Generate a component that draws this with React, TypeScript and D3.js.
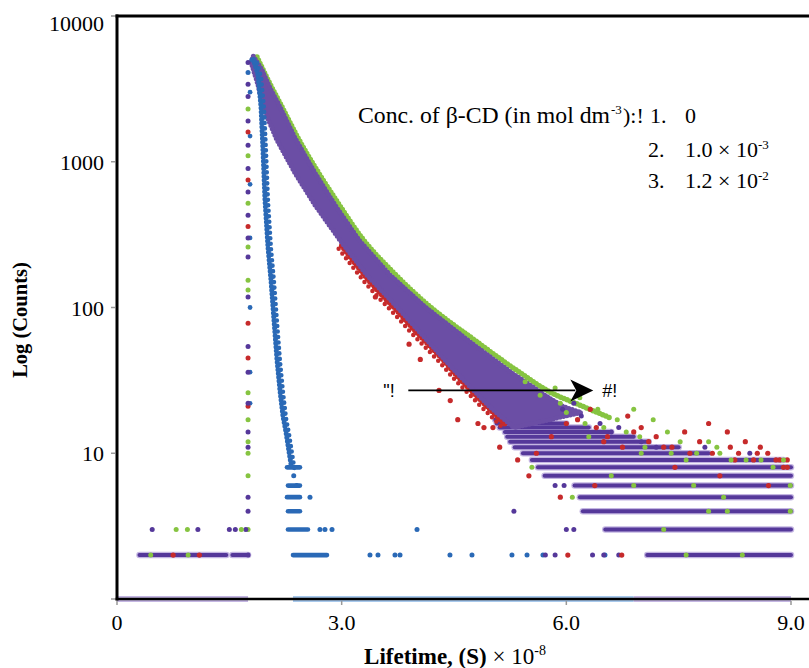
import React from "react";
import * as d3 from "d3";

const W = 809;
const H = 668;

const xTicks = [0, 3, 6, 9];
const xTickLabels = ["0", "3.0", "6.0", "9.0"];
const yTicks = [1, 10, 100, 1000, 10000];
const yTickLabels = ["", "10", "100", "1000", "10000"];

// decay of the samples: purple band, [time (x 1e-8 s), counts]
const bandTop = [
  [1.82, 5300], [1.936, 4260], [2.043, 3210], [2.176, 2375], [2.377, 1455],
  [2.644, 837], [2.911, 505], [3.231, 290], [3.645, 167], [4.113, 101],
  [4.714, 58], [5.274, 35.5], [5.715, 25], [5.95, 21], [6.2, 19],
];
const bandBottom = [
  [1.79, 4830], [1.883, 3363], [1.95, 2375], [2.136, 1410], [2.377, 837],
  [2.644, 505], [2.977, 290], [3.338, 167], [3.739, 101], [4.139, 59.8],
  [4.54, 35.5], [4.981, 20.8], [5.15, 17.5], [5.3, 15],
];
// slowest decay (green) along the upper edge
const greenEdge = [
  [1.869, 5230], [2.016, 3640], [2.203, 2375], [2.417, 1455], [2.684, 851],
  [2.951, 521], [3.271, 300], [3.685, 175], [4.153, 104], [4.754, 60.8],
  [5.328, 37.3], [5.782, 26.3], [6.182, 21.4], [6.583, 17.5],
];
// fastest decay (red) along the lower edge
const redEdge = [
  [3.0, 265], [3.2, 195], [3.34, 158], [3.55, 120],
  [3.74, 95], [3.95, 72], [4.14, 57], [4.35, 44], [4.54, 34], [4.76, 26],
  [4.98, 20], [5.2, 15.5],
];

// single-photon rows at low counts (purple)
const rowCounts = [2, 2, 2, 3, 4, 5, 6, 7, 8, 9, 10, 11, 12, 13, 14, 15, 16, 17, 19];
const rowStart = [0.3, 1.54, 7.08, 6.52, 6.22, 6.18, 6.11, 5.71, 5.62, 5.54, 5.42, 5.31, 5.25, 5.21, 5.18, 5.11, 5.07, 5.05, 5.1];
const rowEnd = [1.46, 1.75, 9.0, 9.0, 9.0, 9.0, 9.0, 9.0, 9.0, 8.9, 7.9, 7.5, 7.1, 6.9, 6.6, 6.3, 6.0, 5.8, 5.7];

// counts lying on the axis (count = 1)
const baseStart = [0, 2.35, 6.9];
const baseEnd = [1.75, 6.9, 9.0];
const baseSeries = ["p", "b", "p"];

// loose dots
const redDots = [
  [6.32, 20], [6.82, 18], [7.58, 14], [8.15, 14], [8.19, 11], [8.69, 10], [8.85, 9],
  [7.41, 11], [5.11, 11], [5.5, 7], [6.02, 2], [6.74, 2], [5.92, 5], [4.55, 17],
  [4.82, 16], [5.02, 15], [7.78, 12], [8.39, 12], [8.59, 11], [6.0, 16], [7.0, 15],
  [8.9, 8], [8.7, 6], [8.8, 9], [5.8, 13], [6.5, 12], [7.2, 13], [0.75, 2], [1.1, 2],
  [6.15, 17], [6.4, 15], [6.55, 13], [6.9, 14], [7.1, 12], [7.3, 11], [7.65, 10],
  [7.95, 10], [8.3, 10], [8.5, 9], [8.95, 9], [8.95, 8], [6.75, 11], [7.9, 16],
  [8.55, 10], [8.25, 9], [4.3, 27], [4.45, 23], [4.9, 15], [3.9, 56], [4.05, 44],
  [3.45, 118], [5.35, 9], [5.6, 10], [7.45, 8], [8.05, 7], [6.38, 6],
];
const greenDots = [
  [7.16, 17], [8.01, 11], [7.74, 10], [8.76, 8], [6.42, 20], [6.68, 17], [5.54, 8],
  [6.08, 5], [8.35, 2], [8.99, 6], [8.99, 4], [6.98, 13], [7.52, 12], [5.92, 22],
  [5.65, 25], [6.18, 24], [7.3, 3], [6.9, 6], [7.9, 4], [8.1, 5], [7.7, 6], [6.6, 7],
  [8.4, 9], [7.0, 10], [0.45, 2], [0.95, 2], [0.79, 3], [0.94, 3], [1.66, 3],
  [6.0, 19], [6.25, 16], [6.5, 15], [6.8, 14], [7.05, 11], [7.4, 10], [7.6, 9],
  [8.2, 9], [8.6, 9], [8.9, 9], [6.3, 13], [7.9, 12], [7.35, 14], [8.05, 10],
  [5.45, 31], [5.85, 28], [6.9, 20], [8.15, 4], [7.6, 2],
];
const purpleDots = [
  [0.47, 3], [1.08, 3], [1.5, 3], [1.58, 3], [1.72, 3], [5.3, 4], [6.0, 3], [6.1, 3],
  [5.85, 6], [5.97, 6], [5.72, 2], [5.85, 2], [6.35, 2], [6.5, 2], [6.7, 2],
  [6.2, 18], [6.45, 16], [6.6, 14], [7.0, 12], [7.2, 11], [7.85, 11], [8.45, 10],
  [5.95, 20], [6.1, 22], [6.7, 15],
];

// rising edge column of the sample decays
const riseTime = 1.75;
const riseCounts = [2, 3, 4, 5, 7, 10, 11, 12, 14, 17, 21, 22, 26, 36, 45, 54, 78, 118, 132, 154, 222, 260, 300, 360, 430, 520, 620, 750, 900, 1100, 1300, 1600, 1900, 2300, 2800, 3400, 4100, 4800];
const riseSeries = ["p", "g", "p", "p", "g", "g", "p", "g", "p", "g", "r", "p", "g", "p", "r", "p", "r", "p", "g", "g", "p", "g", "p", "r", "p", "g", "p", "r", "p", "g", "p", "r", "p", "g", "p", "p", "b", "p"];

// instrument response (blue)
const irfCurve = [
  [1.8, 5000], [1.816, 5150], [1.883, 3940], [1.923, 2375], [1.949, 1205], [1.976, 547],
  [2.016, 260], [2.056, 154], [2.096, 82], [2.136, 44], [2.176, 27], [2.216, 18],
  [2.256, 14], [2.3, 10], [2.33, 8],
];
const irfRise = [22, 36, 100, 300, 700, 1500, 3000];
const irfRowCounts = [8, 6, 5, 4, 3, 2];
const irfRowStart = [2.27, 2.283, 2.27, 2.283, 2.283, 2.35];
const irfRowEnd = [2.443, 2.443, 2.443, 2.443, 2.55, 2.804];
const irfDots = [
  [2.577, 5], [2.71, 3], [2.777, 3], [2.871, 3], [4.006, 3], [3.378, 2], [3.485, 2],
  [3.712, 2], [3.779, 2], [4.446, 2], [4.74, 2], [5.274, 2], [5.475, 2], [5.688, 2],
  [6.516, 2], [2.36, 7], [2.4, 6],
];

const arrowFrom = [3.89, 27];
const arrowTo = [6.36, 27];

const PURPLE = "#6b4ea5";
const PURPLE_DARK = "#55389a";
const HALO = "#c4b6e2";
const GREEN = "#86c441";
const RED = "#c62a2b";
const BLUE = "#2a69b6";
const BLUE_LIGHT = "#a8c9ec";

const colorOf: Record<string, string> = { p: PURPLE_DARK, g: GREEN, r: RED, b: BLUE };

export default function App() {
  const x = d3.scaleLinear().domain([0, 9]).range([117, 791]);
  const y = d3.scaleLog().domain([1, 10000]).range([599, 16]);

  const line = d3
    .line<number[]>()
    .x((d) => x(d[0]))
    .y((d) => y(d[1]));
  const smooth = d3
    .line<number[]>()
    .x((d) => x(d[0]))
    .y((d) => y(d[1]))
    .curve(d3.curveMonotoneX);

  const bandPath = d3
    .line<number[]>()
    .x((d) => x(d[0]))
    .y((d) => y(d[1]))
    .curve(d3.curveLinearClosed)([...bandTop, ...bandBottom.slice().reverse()]);

  const serif = "'Liberation Serif', 'Times New Roman', serif";
  const sans = "'Liberation Sans', Arial, sans-serif";

  return (
    <svg width={W} height={H} style={{ display: "block", position: "absolute", left: 0, top: 0 }}>
      <rect width={W} height={H} fill="#fff" />

      {/* counts on the axis */}
      {baseStart.map((s, i) => (
        <line key={"b" + i} x1={x(s)} x2={x(baseEnd[i])} y1={y(1)} y2={y(1)}
          stroke={baseSeries[i] === "b" ? BLUE_LIGHT : HALO} strokeWidth={6} />
      ))}

      {/* low-count rows */}
      {rowCounts.map((c, i) => (
        <line key={"rh" + i} x1={x(rowStart[i])} x2={x(rowEnd[i])} y1={y(c)} y2={y(c)}
          stroke={HALO} strokeWidth={6.5} strokeLinecap="round" />
      ))}
      {rowCounts.map((c, i) => (
        <line key={"rc" + i} x1={x(rowStart[i])} x2={x(rowEnd[i])} y1={y(c)} y2={y(c)}
          stroke={PURPLE_DARK} strokeWidth={4} strokeLinecap="round" />
      ))}

      {/* green and red edges */}
      <path d={smooth(greenEdge) || ""} fill="none" stroke={GREEN} strokeWidth={5.5}
        strokeLinecap="round" strokeDasharray="0 3.5" />
      <path d={smooth(redEdge) || ""} fill="none" stroke={RED} strokeWidth={5.5}
        strokeLinecap="round" strokeDasharray="0 3.5" />
      <path d={smooth(redEdge) || ""} transform="translate(-3,3)" fill="none" stroke={RED}
        strokeWidth={4.5} strokeLinecap="round" strokeDasharray="0 6" />

      {/* purple decay band */}
      <path d={bandPath || ""} fill={PURPLE} stroke={PURPLE} strokeWidth={5}
        strokeLinecap="round" strokeDasharray="0 3.5" />

      {/* instrument response */}
      <path d={line(irfCurve) || ""} fill="none" stroke={BLUE} strokeWidth={5}
        strokeLinecap="round" strokeDasharray="0 3.8" />
      <path d={line(irfCurve) || ""} transform="translate(3,2)" fill="none" stroke={BLUE}
        strokeWidth={4.6} strokeLinecap="round" strokeDasharray="0 5.5" />
      {irfRise.map((c, i) => (
        <circle key={"ir" + i} cx={x(riseTime) + 2} cy={y(c)} r={2.4} fill={BLUE} />
      ))}
      {irfRowCounts.map((c, i) => (
        <line key={"irr" + i} x1={x(irfRowStart[i])} x2={x(irfRowEnd[i])} y1={y(c)} y2={y(c)}
          stroke={BLUE} strokeWidth={4.6} strokeLinecap="round" />
      ))}
      {irfDots.map((d, i) => (
        <circle key={"id" + i} cx={x(d[0])} cy={y(d[1])} r={2.5} fill={BLUE} />
      ))}

      {/* rising edge */}
      {riseCounts.map((c, i) => (
        <circle key={"rs" + i} cx={x(riseTime)} cy={y(c)} r={2.5} fill={colorOf[riseSeries[i]]} />
      ))}

      {/* loose dots */}
      {purpleDots.map((d, i) => (
        <circle key={"pd" + i} cx={x(d[0])} cy={y(d[1])} r={2.5} fill={PURPLE_DARK} />
      ))}
      {redDots.map((d, i) => (
        <circle key={"rd" + i} cx={x(d[0])} cy={y(d[1])} r={2.6} fill={RED} />
      ))}
      {greenDots.map((d, i) => (
        <circle key={"gd" + i} cx={x(d[0])} cy={y(d[1])} r={2.5} fill={GREEN} />
      ))}

      {/* frame and axes */}
      <line x1={117} x2={117} y1={14.5} y2={600.5} stroke="#000" strokeWidth={3} />
      <line x1={115.5} x2={W} y1={16} y2={16} stroke="#000" strokeWidth={3} />
      <line x1={115.5} x2={W} y1={y(1)} y2={y(1)} stroke="#000" strokeWidth={2.6} />

      {yTicks.map((v, i) => (
        <g key={"yt" + i}>
          <line x1={111} x2={115} y1={y(v)} y2={y(v)} stroke="#999" strokeWidth={1.5} />
          <text x={104} y={Math.max(y(v) + 8, 31)} textAnchor="end" fontFamily={serif} fontSize={22}>
            {yTickLabels[i]}
          </text>
        </g>
      ))}
      {xTicks.map((v, i) => (
        <g key={"xt" + i}>
          <line x1={x(v)} x2={x(v)} y1={601} y2={605} stroke="#999" strokeWidth={1.5} />
          <text x={x(v)} y={630} textAnchor="middle" fontFamily={serif} fontSize={22}>
            {xTickLabels[i]}
          </text>
        </g>
      ))}

      {/* axis titles */}
      <text x={455} y={664} textAnchor="middle" fontFamily={serif} fontSize={23}>
        <tspan fontWeight="bold">Lifetime, (S)</tspan>
        <tspan> × 10</tspan>
        <tspan dy={-9} fontSize={14}>-8</tspan>
      </text>
      <text transform="translate(27,320) rotate(-90)" textAnchor="middle" fontFamily={serif}
        fontSize={20.5} fontWeight="bold">
        Log (Counts)
      </text>

      {/* legend */}
      <g fontFamily={serif} fontSize={22}>
        <text x={358} y={123} textLength={252} lengthAdjust="spacingAndGlyphs" fontSize={23}>
          Conc. of β-CD (in mol dm
        </text>
        <text x={611} y={114} fontSize={13}>-3</text>
        <text x={623} y={123}>):!</text>
        <text x={650} y={123}>1.</text>
        <text x={685} y={123}>0</text>
        <text x={648} y={157}>2.</text>
        <text x={685} y={157}>
          1.0 × 10<tspan dy={-8} fontSize={13}>-3</tspan>
        </text>
        <text x={648} y={188}>3.</text>
        <text x={685} y={188}>
          1.2 × 10<tspan dy={-8} fontSize={13}>-2</tspan>
        </text>
      </g>

      {/* arrow annotation */}
      <line x1={x(arrowFrom[0])} x2={x(arrowTo[0]) - 18} y1={y(arrowFrom[1])} y2={y(arrowTo[1])}
        stroke="#000" strokeWidth={1.6} />
      <path
        d={`M${x(arrowTo[0])},${y(arrowTo[1])} L${x(arrowTo[0]) - 23},${y(arrowTo[1]) - 11} L${x(arrowTo[0]) - 17},${y(arrowTo[1])} L${x(arrowTo[0]) - 23},${y(arrowTo[1]) + 11} Z`}
        fill="#000" />
      <text x={x(arrowFrom[0]) - 25} y={y(arrowFrom[1]) + 7} fontFamily={sans} fontSize={18}>"!</text>
      <text x={x(arrowTo[0]) + 9} y={y(arrowTo[1]) + 7} fontFamily={sans} fontSize={18}>#!</text>
    </svg>
  );
}
